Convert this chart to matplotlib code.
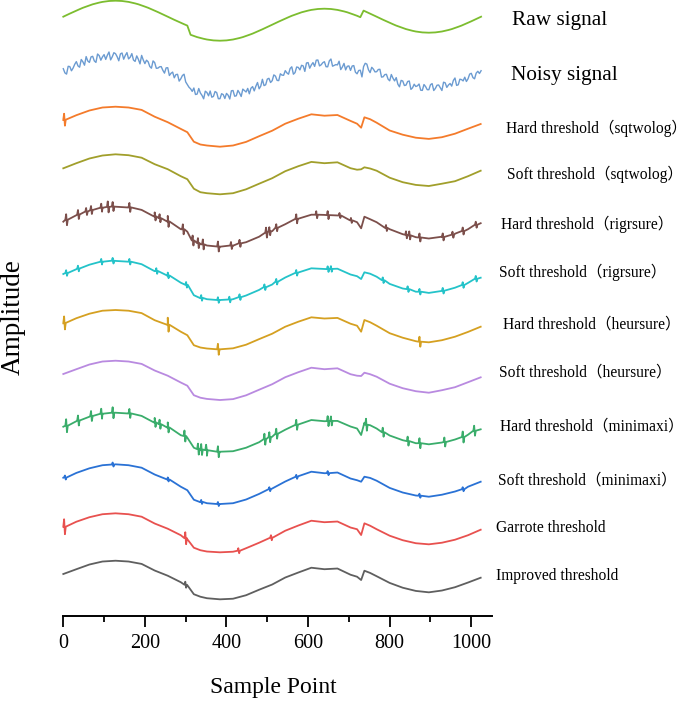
import numpy as np
import matplotlib
matplotlib.use("Agg")
import matplotlib.pyplot as plt
from matplotlib.ticker import MultipleLocator

plt.rcParams['font.family'] = ['Liberation Serif', 'Noto Sans CJK SC']

# --- data (amplitude units, each trace centred on 0) ---
fine_x = np.arange(0, 1025, 8)
half_x = np.arange(4, 1024, 8)

raw_signal = [0, 0.16, 0.31, 0.46, 0.61, 0.75, 0.89, 1.01, 1.13, 1.24, 1.33, 1.41, 1.48, 1.53, 1.57, 1.59,
              1.60, 1.59, 1.57, 1.53, 1.48, 1.41, 1.33, 1.24, 1.13, 1.01, 0.89, 0.75, 0.61, 0.46, 0.31, 0.16,
              0, -0.16, -0.31, -0.46, -0.61, -0.75, -0.89, -1.81, -1.93, -2.04, -2.13, -2.21, -2.28, -2.33,
              -2.37, -2.39, -2.40, -2.39, -2.37, -2.33, -2.28, -2.21, -2.13, -2.04, -1.93, -1.81, -1.69, -1.55,
              -1.41, -1.26, -1.11, -0.96, -0.80, -0.64, -0.49, -0.34, -0.19, -0.05, 0.09, 0.21, 0.33, 0.44,
              0.53, 0.61, 0.68, 0.73, 0.77, 0.79, 0.80, 0.79, 0.77, 0.73, 0.68, 0.61, 0.53, 0.44, 0.33, 0.21,
              0.09, -0.05, 0.61, 0.46, 0.31, 0.16, 0, -0.16, -0.31, -0.46, -0.61, -0.75, -0.89, -1.01, -1.13,
              -1.24, -1.33, -1.41, -1.48, -1.53, -1.57, -1.59, -1.60, -1.59, -1.57, -1.53, -1.48, -1.41, -1.33,
              -1.24, -1.13, -1.01, -0.89, -0.75, -0.61, -0.46, -0.31, -0.16, 0]

# noisy signal: samples at 0, 8, 16 ... and the in-between ones at 4, 12, 20 ...
noisy_signal = [0.30, -0.24, 0.51, 0.36, 1.01, 0.45, 0.99, 1.51, 0.93, 1.54, 0.93, 1.61, 1.48, 1.23, 1.97, 1.49,
                1.80, 1.09, 1.87, 1.63, 1.28, 1.81, 1.03, 1.24, 1.63, 0.81, 0.99, 0.35, 0.91, 0.36, 0.51, -0.14,
                0.40, -0.16, -0.61, -0.26, -0.71, -0.25, -1.29, -1.71, -1.63, -2.24, -2.13, -2.71, -2.08, -1.93,
                -2.47, -2.09, -2.70, -2.29, -2.17, -2.73, -1.88, -2.41, -2.13, -1.74, -2.03, -2.21, -1.49, -1.45,
                -1.71, -0.76, -1.31, -0.66, -0.90, -0.44, -0.89, -0.34, 0.11, -0.25, 0.49, -0.09, 0.43, 0.64,
                0.03, 0.91, 0.68, 0.53, 1.17, 0.69, 1.00, 0.49, 1.27, 0.63, 0.68, 0.21, 0.83, 0.54, 0.13, 0.61,
                -0.21, 0.15, 0.51, 0.76, -0.09, 0.26, 0.00, 0.24, -0.51, -0.26, -0.91, -0.65, -0.59, -1.51,
                -0.93, -1.34, -0.93, -1.61, -1.48, -1.23, -1.87, -1.49, -1.80, -1.19, -1.67, -1.33, -1.88, -1.11,
                -1.33, -1.44, -0.63, -1.31, -0.79, -0.55, -0.71, -0.16, -0.71, 0.04, 0.10]
noisy_signal_mid = [-0.12, 0.54, 0.09, 0.74, 0.58, 1.22, 0.65, 1.07, 1.48, 1.08, 1.77, 1.15, 1.71, 1.65, 1.18,
                    1.90, 1.50, 1.78, 1.25, 1.91, 1.45, 1.17, 1.58, 0.78, 1.17, 1.15, 0.52, 1.08, 0.34, 0.49,
                    0.14, 0.38, -0.38, -0.04, -0.29, -0.94, -0.38, -1.02, -1.55, -1.97, -2.28, -1.68, -2.37,
                    -1.95, -2.41, -2.55, -1.98, -2.70, -2.20, -2.68, -2.35, -1.91, -2.45, -1.87, -2.48, -1.88,
                    -1.67, -1.65, -1.92, -1.08, -1.44, -1.39, -0.74, -1.08, -0.32, -0.87, -0.21, -0.36, -0.12,
                    0.32, -0.25, 0.47, 0.18, 0.58, 0.87, 0.35, 0.91, 1.15, 0.58, 0.90, 0.50, 1.08, 0.55, 0.71,
                    1.05, 0.47, 0.18, 0.58, 0.57, -0.05, 0.12, -0.52, 0.84, 0.19, 0.44, -0.02, 0.22, -0.54,
                    -0.29, -0.74, -0.28, -0.92, -1.25, -0.87, -1.38, -0.98, -1.77, -1.25, -1.41, -1.85, -1.28,
                    -1.80, -1.30, -1.88, -1.35, -1.61, -1.05, -1.57, -1.18, -0.88, -1.37, -0.75, -0.92, -0.98,
                    -0.24, -0.59, -0.14, -0.18]

grid_x = [0, 32, 64, 96, 128, 160, 192, 224, 256, 288, 304, 320, 336, 352, 384, 416, 448, 480, 512,
          544, 576, 608, 640, 672, 704, 720, 730, 738, 752, 768, 800, 832, 864, 896, 928, 960, 992, 1023]

hard_sqtwolog = [0.27, 0.75, 1.22, 1.52, 1.60, 1.52, 1.28, 0.60, 0.05, -0.62, -0.95, -1.90, -2.18, -2.28,
                 -2.40, -2.28, -1.92, -1.35, -0.80, -0.10, 0.40, 0.84, 0.70, 0.77, 0.18, -0.10, -0.50, 0.54,
                 0.35, 0.00, -0.78, -1.20, -1.50, -1.62, -1.45, -1.10, -0.60, -0.13]
soft_sqtwolog = [0.24, 0.75, 1.22, 1.52, 1.64, 1.55, 1.30, 0.65, 0.15, -0.55, -0.85, -1.80, -2.15, -2.25,
                 -2.36, -2.25, -1.86, -1.30, -0.75, -0.05, 0.45, 0.88, 0.75, 0.84, 0.25, 0.10, 0.14, 0.34,
                 0.22, 0.00, -0.70, -1.15, -1.42, -1.53, -1.30, -1.05, -0.55, 0.00]
hard_rigrsure = [0.10, 0.75, 1.20, 1.50, 1.60, 1.52, 1.28, 0.62, 0.10, -0.65, -0.90, -1.90, -2.15, -2.28,
                 -2.40, -2.30, -1.95, -1.40, -0.85, -0.15, 0.40, 0.80, 0.78, 0.72, 0.25, 0.05, -0.56, 0.60,
                 0.35, 0.05, -0.65, -1.15, -1.45, -1.58, -1.40, -1.10, -0.65, -0.05]
soft_rigrsure = [0.27, 0.75, 1.20, 1.50, 1.58, 1.50, 1.25, 0.55, 0.05, -0.60, -0.90, -1.85, -2.15, -2.25,
                 -2.33, -2.25, -1.88, -1.32, -0.78, -0.08, 0.42, 0.84, 0.78, 0.80, 0.22, 0.05, -0.23, 0.44,
                 0.30, 0.00, -0.72, -1.18, -1.50, -1.62, -1.42, -1.10, -0.62, -0.10]
hard_heursure = [0.24, 0.75, 1.20, 1.50, 1.57, 1.50, 1.26, 0.55, 0.05, -0.60, -0.95, -1.95, -2.18, -2.28,
                 -2.36, -2.26, -1.90, -1.34, -0.80, -0.10, 0.40, 0.84, 0.72, 0.78, 0.20, 0.00, -0.60, 0.57,
                 0.35, 0.00, -0.75, -1.20, -1.55, -1.66, -1.45, -1.10, -0.62, -0.10]
soft_heursure = [0.27, 0.75, 1.22, 1.52, 1.60, 1.52, 1.28, 0.62, 0.10, -0.58, -0.90, -1.85, -2.10, -2.22,
                 -2.33, -2.24, -1.86, -1.30, -0.75, -0.05, 0.45, 0.90, 0.75, 0.84, 0.25, 0.10, 0.07, 0.40,
                 0.25, 0.00, -0.70, -1.15, -1.45, -1.60, -1.35, -1.05, -0.55, -0.06]
hard_minimaxi = [0.20, 0.75, 1.20, 1.50, 1.60, 1.52, 1.28, 0.62, 0.10, -0.65, -0.90, -1.90, -2.10, -2.20,
                 -2.30, -2.25, -1.90, -1.35, -0.80, -0.10, 0.42, 0.87, 0.75, 0.78, 0.22, 0.02, -0.63, 0.60,
                 0.35, 0.02, -0.68, -1.15, -1.45, -1.56, -1.38, -1.08, -0.60, -0.06]
soft_minimaxi = [0.30, 0.78, 1.24, 1.55, 1.64, 1.55, 1.30, 0.62, 0.10, -0.60, -0.95, -1.90, -2.15, -2.25,
                 -2.33, -2.25, -1.88, -1.32, -0.78, -0.08, 0.45, 0.90, 0.75, 0.82, 0.22, 0.05, -0.10, 0.40,
                 0.28, 0.00, -0.72, -1.18, -1.48, -1.60, -1.40, -1.08, -0.60, -0.10]
garrote = [0.30, 0.80, 1.25, 1.55, 1.64, 1.55, 1.30, 0.62, 0.10, -0.55, -0.95, -1.80, -2.05, -2.18,
           -2.26, -2.20, -1.85, -1.30, -0.78, -0.10, 0.42, 0.90, 0.75, 0.82, 0.22, 0.05, -0.53, 0.64,
           0.40, 0.05, -0.60, -1.05, -1.35, -1.46, -1.30, -1.00, -0.55, 0.00]
improved = [0.27, 0.75, 1.22, 1.52, 1.60, 1.52, 1.28, 0.62, 0.10, -0.55, -0.85, -1.75, -2.00, -2.15,
            -2.26, -2.20, -1.85, -1.30, -0.78, -0.08, 0.42, 0.90, 0.75, 0.82, 0.20, 0.00, -0.33, 0.60,
            0.38, 0.05, -0.62, -1.10, -1.42, -1.56, -1.38, -1.05, -0.58, -0.10]

# spikes left by thresholding: sample position, curve level there, half height
hs_spike_x, hs_spike_base, hs_spike_dy = [3], [0.30], [0.6]
hr_spike_x = [8, 37, 57, 69, 94, 110, 122, 163, 225, 237, 257, 294, 318, 331, 343, 380, 412, 433, 498, 506,
              523, 572, 621, 649, 678, 706, 792, 841, 849, 874, 931, 955, 980, 1012]
hr_spike_base = [0.30, 0.82, 1.12, 1.27, 1.50, 1.58, 1.62, 1.53, 0.63, 0.45, 0.13, -0.66, -1.78, -2.04, -2.17,
                 -2.38, -2.28, -2.06, -0.99, -0.85, -0.50, 0.39, 0.80, 0.76, 0.72, 0.23, -0.53, -1.21, -1.27,
                 -1.48, -1.42, -1.20, -0.83, -0.20]
hr_spike_dy = [0.55, 0.45, 0.35, 0.4, 0.4, 0.55, 0.45, 0.45, 0.4, 0.4, 0.55, 0.5, 0.5, 0.5, 0.5, 0.5, 0.35,
               0.35, 0.5, 0.4, 0.35, 0.45, 0.35, 0.4, 0.25, 0.25, 0.3, 0.35, 0.4, 0.4, 0.35, 0.3, 0.35, 0.3]
sr_spike_x = [8, 37, 94, 122, 163, 229, 257, 302, 339, 380, 408, 433, 494, 523, 572, 649, 657, 784, 845,
              874, 931, 980, 1012]
sr_spike_base = [0.37, 0.82, 1.50, 1.60, 1.50, 0.57, 0.13, -0.81, -2.12, -2.33, -2.28, -2.04, -1.05, -0.50,
                 0.39, 0.76, 0.78, -0.35, -1.24, -1.50, -1.40, -0.83, -0.20]
sr_spike_dy = [0.28] * len(sr_spike_x)
hh_spike_x, hh_spike_base, hh_spike_dy = [3, 257, 380, 874], [0.28, 0.10, -2.36, -1.60], [0.65, 0.7, 0.55, 0.5]
hm_spike_x = [8, 37, 69, 94, 122, 163, 225, 237, 257, 298, 331, 339, 351, 380, 494, 506, 523, 572, 649, 657,
              743, 784, 845, 874, 935, 980, 1008]
hm_spike_base = [0.30, 0.82, 1.27, 1.50, 1.60, 1.53, 0.63, 0.45, 0.13, -0.73, -2.04, -2.08, -2.15, -2.30,
                 -1.05, -0.85, -0.50, 0.39, 0.76, 0.78, 0.40, -0.35, -1.24, -1.45, -1.33, -0.83, -0.20]
hm_spike_dy = [0.65, 0.5, 0.5, 0.5, 0.55, 0.45, 0.45, 0.45, 0.5, 0.55, 0.55, 0.55, 0.55, 0.55, 0.55, 0.5,
               0.5, 0.5, 0.5, 0.45, 0.6, 0.45, 0.45, 0.5, 0.45, 0.55, 0.5]
sm_spike_x = [5, 122, 257, 339, 380, 506, 572, 649, 874, 980]
sm_spike_base = [0.32, 1.62, 0.13, -2.12, -2.33, -0.85, 0.39, 0.76, -1.50, -0.85]
sm_spike_dy = [0.2] * len(sm_spike_x)
ga_spike_x, ga_spike_base, ga_spike_dy = [3, 300, 430, 510], [0.30, -0.85, -2.10, -0.80], [0.75, 0.6, 0.25, 0.25]
im_spike_x, im_spike_base, im_spike_dy = [300], [-0.80], [0.3]

labels = ["Raw signal", "Noisy signal",
          "Hard threshold（sqtwolog）", "Soft threshold（sqtwolog）",
          "Hard threshold（rigrsure）", "Soft threshold（rigrsure）",
          "Hard threshold（heursure）", "Soft threshold（heursure）",
          "Hard threshold（minimaxi）", "Soft threshold（minimaxi）",
          "Garrote threshold", "Improved threshold"]

# --- layout / style ---
offsets = [0, -5.5, -10.6, -15.4, -20.6, -26.0, -30.9, -36.0, -41.2, -46.4, -51.3, -56.0]
label_x = [1100, 1098, 1084, 1087, 1074, 1068, 1078, 1068, 1071, 1065, 1061, 1060]
label_y = [-0.4, -5.9, -11.2, -15.8, -20.8, -25.6, -30.8, -35.6, -41.0, -46.4, -51.1, -55.9]
label_size = [15.3, 15.3] + [11.2] * 10
colors = ["#7cbd2f", "#6b9bd1", "#f47b2b", "#a19f2b", "#7c4f4b", "#24c3c9",
          "#d5a021", "#b98ae0", "#3aad6b", "#2a72d5", "#e8514f", "#5f5f5f"]


def add_spikes(xs, ys, sx, sbase, sdy):
    px = list(xs)
    py = list(ys)
    for x, b, d in zip(sx, sbase, sdy):
        px += [x - 3, x - 1, x + 1, x + 3]
        py += [b, b + d, b - d, b]
    order = np.argsort(px, kind="stable")
    return np.array(px)[order], np.array(py)[order]


noisy_x = np.concatenate([fine_x, half_x])
noisy_y = np.concatenate([noisy_signal, noisy_signal_mid])
noisy_order = np.argsort(noisy_x)

traces = [
    (fine_x, np.array(raw_signal)),
    (noisy_x[noisy_order], noisy_y[noisy_order]),
    add_spikes(grid_x, hard_sqtwolog, hs_spike_x, hs_spike_base, hs_spike_dy),
    (np.array(grid_x), np.array(soft_sqtwolog)),
    add_spikes(grid_x, hard_rigrsure, hr_spike_x, hr_spike_base, hr_spike_dy),
    add_spikes(grid_x, soft_rigrsure, sr_spike_x, sr_spike_base, sr_spike_dy),
    add_spikes(grid_x, hard_heursure, hh_spike_x, hh_spike_base, hh_spike_dy),
    (np.array(grid_x), np.array(soft_heursure)),
    add_spikes(grid_x, hard_minimaxi, hm_spike_x, hm_spike_base, hm_spike_dy),
    add_spikes(grid_x, soft_minimaxi, sm_spike_x, sm_spike_base, sm_spike_dy),
    add_spikes(grid_x, garrote, ga_spike_x, ga_spike_base, ga_spike_dy),
    add_spikes(grid_x, improved, im_spike_x, im_spike_base, im_spike_dy),
]

fig = plt.figure(figsize=(6.85, 7.02), dpi=100)
ax = fig.add_axes([0.0924, 0.1229, 0.6254, 0.8771])

for i, (x, y) in enumerate(traces):
    lw = 1.0 if i == 1 else 1.3
    ax.plot(x, y + offsets[i], color=colors[i], lw=lw, clip_on=False)
    ax.text(label_x[i], label_y[i], labels[i], fontsize=label_size[i], ha="left", va="center",
            clip_on=False)

ax.set_xlim(0, 1050)
ax.set_ylim(-59.9, 1.67)
for s in ["left", "top", "right"]:
    ax.spines[s].set_visible(False)
ax.spines["bottom"].set_linewidth(1.4)
ax.set_yticks([])
ax.xaxis.set_major_locator(MultipleLocator(200))
ax.xaxis.set_minor_locator(MultipleLocator(100))
ax.set_xticks(range(0, 1001, 200))
ax.tick_params(axis="x", which="major", length=8, width=1.3, labelsize=14.5, pad=5)
ax.tick_params(axis="x", which="minor", length=4.3, width=1.3)

fig.text(273.5 / 685, 1 - 688 / 702, "Sample Point", fontsize=17, ha="center", va="center")
fig.text(13 / 685, 1 - 317 / 702, "Amplitude", fontsize=19.5, ha="center", va="center", rotation=90)

fig.savefig("out.png", dpi=100)
